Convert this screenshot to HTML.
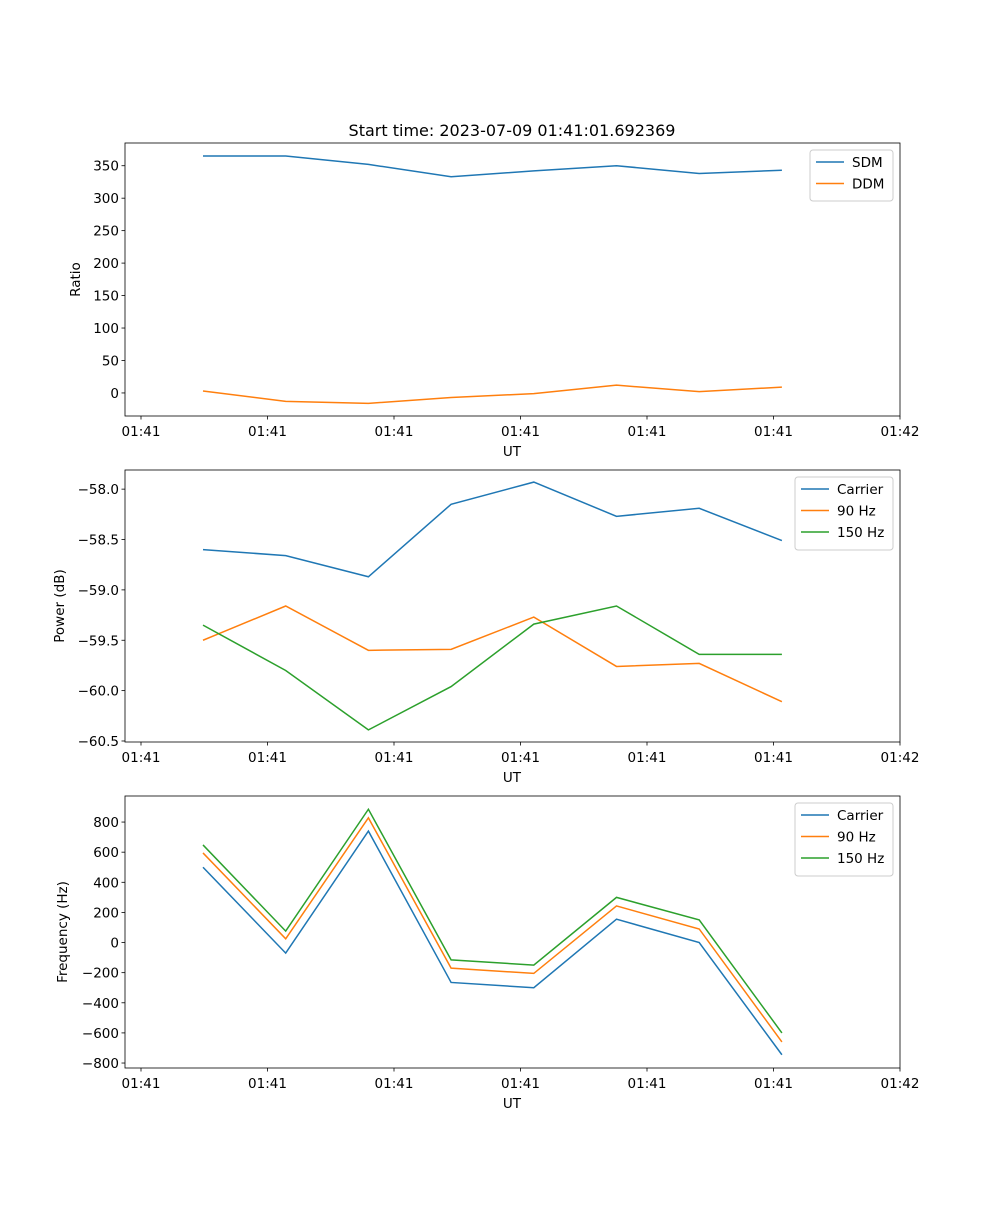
<!DOCTYPE html>
<html><head><meta charset="utf-8"><style>
html,body{margin:0;padding:0;background:#fff;}
svg text{font-family:"DejaVu Sans","Liberation Sans",sans-serif;font-size:13.5px;fill:#000;}
</style></head><body>
<svg id="fig" width="1000" height="1200" xmlns="http://www.w3.org/2000/svg">
<text x="512" y="136" text-anchor="middle" style="font-size:16px">Start time: 2023-07-09 01:41:01.692369</text>
</svg>
<script>
const xTickLabels = ["01:41","01:41","01:41","01:41","01:41","01:41","01:42"];
const sdm = [365,365,352,333,342,350,338,343];
const ddm = [3,-13,-16,-7,-1,12,2,9];
const pwrCarrier = [-58.60,-58.66,-58.87,-58.15,-57.93,-58.27,-58.19,-58.51];
const pwr90 = [-59.50,-59.16,-59.60,-59.59,-59.27,-59.76,-59.73,-60.11];
const pwr150 = [-59.35,-59.80,-60.39,-59.96,-59.34,-59.16,-59.64,-59.64];
const frqCarrier = [500,-70,740,-265,-300,155,0,-745];
const frq90 = [595,25,828,-170,-205,243,90,-660];
const frq150 = [648,76,885,-115,-150,300,150,-600];
const ratioTicks = [0,50,100,150,200,250,300,350];
const powerTicks = [-58.0,-58.5,-59.0,-59.5,-60.0,-60.5];
const freqTicks = [800,600,400,200,0,-200,-400,-600,-800];

const NS="http://www.w3.org/2000/svg";
const svg=document.getElementById('fig');
function mk(tag,attrs,parent){const e=document.createElementNS(NS,tag);for(const k in attrs)e.setAttribute(k,attrs[k]);(parent||svg).appendChild(e);return e;}
const X0=125,X1=900;
// x domain: index -0.75 .. 8.6 mapped so idx0->203, idx1->285.6
function xs(i){return 203+i*82.7;}
const xTickPix=[141,267.5,394,520.5,647,773.5,900];
function panel(name,top,bot,ymin,ymax,ticks,fmt,ylabel,ylabX,series,legend){
  const g=mk('g',{});  
  const ys=v=>bot-(v-ymin)/(ymax-ymin)*(bot-top);
  series.forEach(s=>{
    const p=mk('polyline',{points:s.data.map((v,i)=>xs(i)+','+ys(v)).join(' '),fill:'none',stroke:s.color,'stroke-width':1.5},g);
    
    
  });
  const r=mk('rect',{x:X0,y:top,width:X1-X0,height:bot-top,fill:'none',stroke:'#000','stroke-width':0.8},g);
  
  
  ticks.forEach(t=>{const y=ys(t);mk('line',{x1:X0-3.5,x2:X0,y1:y,y2:y,stroke:'#000','stroke-width':0.8},g);
    const tx=mk('text',{x:X0-6,y:y+5,'text-anchor':'end'},g);tx.textContent=fmt(t);
    
    });
  xTickLabels.forEach((l,i)=>{const x=xTickPix[i];mk('line',{x1:x,x2:x,y1:bot,y2:bot+3.5,stroke:'#000','stroke-width':0.8},g);
    const tx=mk('text',{x:x,y:bot+20,'text-anchor':'middle'},g);tx.textContent=l;
    
    });
  const xl=mk('text',{x:512,y:bot+40,'text-anchor':'middle'},g);xl.textContent='UT';
  
  
  const cy=(top+bot)/2;
  const yl=mk('text',{x:ylabX,y:cy,'text-anchor':'middle',transform:`rotate(-90 ${ylabX} ${cy})`},g);yl.textContent=ylabel;
  
  
  const lg=mk('g',{},g);
  
  
  mk('rect',{x:legend.x,y:top+7,width:893-legend.x,height:series.length*22+7,fill:'#fff',stroke:'#ccc',rx:3},lg);
  series.forEach((s,i)=>{const y=top+19+i*21.5;
    mk('line',{x1:legend.x+6,x2:legend.x+34,y1:y,y2:y,stroke:s.color,'stroke-width':1.5},lg);
    const t=mk('text',{x:legend.x+42,y:y+5},lg);t.textContent=s.label;
    
    });
}
const B='#1f77b4',O='#ff7f0e',G='#2ca02c';
panel('ratio',143,416,-35.5,385,ratioTicks,v=>String(v),'Ratio',80,
  [{key:'sdm',label:'SDM',data:sdm,color:B},{key:'ddm',label:'DDM',data:ddm,color:O}],{x:810});
panel('power',470,742,-60.51,-57.81,powerTicks,v=>v.toFixed(1).replace('-','\u2212'),'Power (dB)',64,
  [{key:'carrier',label:'Carrier',data:pwrCarrier,color:B},{key:'90hz',label:'90 Hz',data:pwr90,color:O},{key:'150hz',label:'150 Hz',data:pwr150,color:G}],{x:795});
panel('frequency',796,1068,-833,973,freqTicks,v=>String(v).replace('-','\u2212'),'Frequency (Hz)',67,
  [{key:'carrier',label:'Carrier',data:frqCarrier,color:B},{key:'90hz',label:'90 Hz',data:frq90,color:O},{key:'150hz',label:'150 Hz',data:frq150,color:G}],{x:795});
</script>
</body></html>
